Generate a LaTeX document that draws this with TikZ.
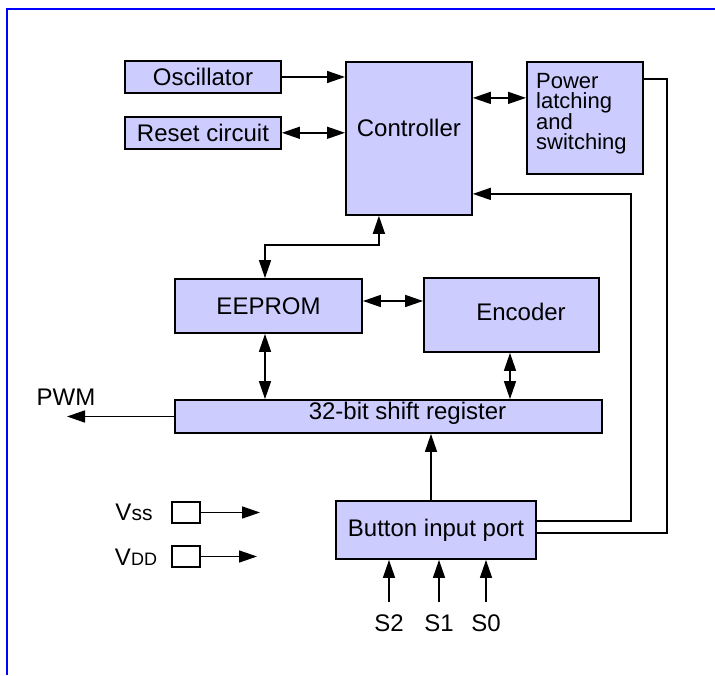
\documentclass[tikz,border=0pt]{standalone}
\usepackage{fontspec}
\setmainfont{Liberation Sans}
\usetikzlibrary{positioning, arrows.meta, calc}
\definecolor{BlockFill}{HTML}{CCCCFF}
\definecolor{FrameBlue}{HTML}{0000FF}

\begin{document}
\begin{tikzpicture}[x=1pt, y=1pt,
    block/.style={draw=black, line width=1.8pt, fill=BlockFill, inner sep=0pt},
    pad/.style={draw=black, line width=1.5pt, fill=white, minimum width=28pt, minimum height=21pt, inner sep=0pt},
    arr/.style={-{Triangle[length=18pt, width=12pt]}, line width=1.5pt},
    darr/.style={{Triangle[length=18pt, width=12pt]}-{Triangle[length=18pt, width=12pt]}, line width=1.5pt},
    wire/.style={line width=1.5pt},
    every node/.style={font=\fontsize{24}{20}\selectfont}
]
\useasboundingbox (0,0) rectangle (715,675);
\draw[FrameBlue, line width=2.5pt] (7,0) -- (7,666) -- (715,666);

% Top row
\node[block, minimum width=156pt, minimum height=32pt] (osc) at (203,598) {Oscillator};
\node[block, minimum width=156pt, minimum height=32pt, below=22pt of osc] (reset) {Reset circuit};
\node[block, minimum width=126pt, minimum height=153pt, anchor=north west,
      label={[yshift=10.5pt]center:Controller}] (ctrl) at (345,614) {};
\node[block, minimum width=116pt, minimum height=112pt, anchor=north west] (power) at (526,614) {};
\node[anchor=north west, inner sep=0pt, align=left,
      font=\fontsize{22}{20}\selectfont] (powertxt) at (536,602) {Power\\latching\\and\\switching};

\draw[arr] (osc.east) -- (osc.east -| ctrl.west);
\draw[darr] (reset.east) -- (reset.east -| ctrl.west);
\draw[darr] ([yshift=20pt]power.west -| ctrl.east) -- ([yshift=20pt]power.west);

% Middle row
\node[block, minimum width=187pt, minimum height=54pt] (eeprom) at (268.5,369) {EEPROM};
\node[block, minimum width=175pt, minimum height=74pt,
      label={[xshift=9.5pt, yshift=3pt]center:Encoder}] (enc) at (511.5,360) {};
\node[block, minimum width=427pt, minimum height=33pt,
      label={[xshift=19pt, yshift=3pt]center:32-bit shift register}] (shift) at (388.5,258.5) {};

\draw[darr] ([xshift=-3.5pt]eeprom.north) -- ++(0,33) -| ([xshift=-30pt]ctrl.south);
\draw[darr] ([yshift=5pt]eeprom.east) -- ([yshift=5pt]eeprom.east -| enc.west);
\draw[darr] ([xshift=-3.5pt]eeprom.south) -- ([xshift=-3.5pt]eeprom.south |- shift.north);
\draw[darr] ([xshift=-1.5pt]enc.south) -- ([xshift=-1.5pt]enc.south |- shift.north);

% PWM output
\node (pwm) at (66,278) {PWM};
\coordinate (pwmend) at (67,258);
\draw[arr] (shift.west) -- (shift.west -| pwmend);

% Button input port
\node[block, minimum width=200pt, minimum height=58pt] (button) at (436,145) {Button input port};
\draw[arr] ([xshift=-5pt]button.north) -- ([xshift=-5pt]button.north |- shift.south);
\draw[arr] ([yshift=9pt]button.east) -- ++(94,0) |- ([yshift=-55.5pt]ctrl.east);
\draw[wire] ([yshift=39pt]power.east) -- ++(23,0) |- ([yshift=-3pt]button.east);

\node[inner sep=0pt] (stwo) at (389,52) {S2};
\node[inner sep=0pt] (sone) at (439,52) {S1};
\node[inner sep=0pt] (szero) at (486,52) {S0};
\draw[arr] ([yshift=12pt]stwo.north) -- (stwo.north |- button.south);
\draw[arr] ([yshift=12pt]sone.north) -- (sone.north |- button.south);
\draw[arr] ([yshift=12pt]szero.north) -- (szero.north |- button.south);

% Supply pins
\node[pad] (vss) at (186,162.5) {};
\node[pad] (vdd) at (186,118.5) {};
\node (vsstxt) at (134,163) {V{\fontsize{21}{21}\selectfont ss}};
\node (vddtxt) at (136,118) {V{\fontsize{18}{18}\selectfont DD}};
\coordinate (vssend) at (260,162.5);
\coordinate (vddend) at (257,118.5);
\draw[arr] (vss.east) -- (vssend);
\draw[arr] (vdd.east) -- (vddend);

\end{tikzpicture}
\end{document}
